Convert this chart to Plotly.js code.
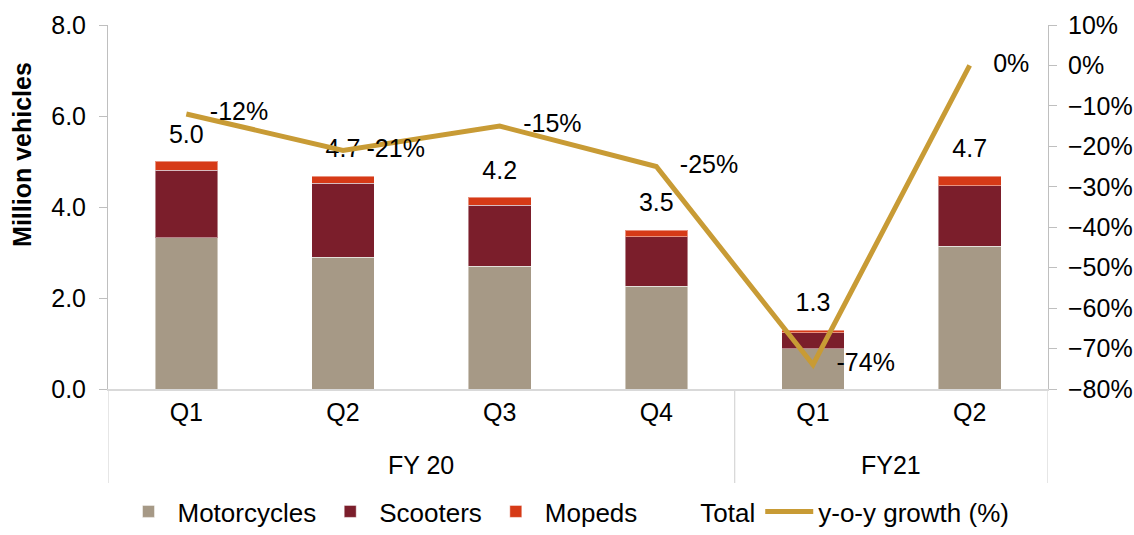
<!DOCTYPE html>
<html>
<head>
<meta charset="utf-8">
<script src="https://cdn.plot.ly/plotly-3.0.1.min.js"></script>
<style>html,body{margin:0;padding:0;background:#fff;}#chart{width:1134px;height:535px;}</style>
</head>
<body>
<div id="chart"></div>
<script>
const fiscalYears = ["FY 20","FY 20","FY 20","FY 20","FY21","FY21"];
const quarters = ["Q1","Q2","Q3","Q4","Q1","Q2"];
const motorcycles = [3.32, 2.90, 2.70, 2.26, 0.89, 3.14];
const scooters = [1.49, 1.62, 1.34, 1.09, 0.35, 1.33];
const mopeds = [0.20, 0.16, 0.17, 0.14, 0.05, 0.21];
const totals = [5.0, 4.7, 4.2, 3.5, 1.3, 4.7];
const growth = [-0.12, -0.21, -0.15, -0.25, -0.74, 0.00];
const growthLabels = ["-12%","-21%","-15%","-25%","-74%","0%"];
const yTitle = "Million vehicles";

const xIdx = quarters.map((_, i) => i);
const fontFam = '"Liberation Sans", Arial, sans-serif';
const FS = 25;
const barLine = {width: 1, color: 'rgba(255,255,255,0.45)'};
const gridGray = '#D9D9D9';

// group spans for the fiscal-year level of the category axis
const groups = [];
fiscalYears.forEach((fy, i) => {
  if (!groups.length || groups[groups.length-1].name !== fy) groups.push({name: fy, start: i, end: i});
  else groups[groups.length-1].end = i;
});

const annotations = groups.map(g => ({
  x: (g.start + g.end) / 2, xref:'x', y: -0.21, yref:'paper', yanchor:'middle',
  text: g.name, showarrow:false, font:{size:FS, color:'#000', family:fontFam}
}));
annotations.push({
  x:0, xref:'paper', xanchor:'center', xshift:-86, y:0.643, yref:'paper', yanchor:'middle',
  text: yTitle, textangle:-90, showarrow:false,
  font:{size:FS, color:'#000', family:fontFam, weight:'bold'}
});

const dividerX = [groups[0].start - 0.5].concat(groups.map(g => g.end + 0.5));
const shapes = dividerX.map(xv => ({
  type:'line', xref:'x', yref:'paper', x0:xv, x1:xv, y0:0, y1:-0.258,
  line:{color:gridGray, width:1.3}, layer:'below'
}));

const traces = [
  {type:'bar', name:'Motorcycles', x:xIdx, y:motorcycles, marker:{color:'#A69986', line:barLine}},
  {type:'bar', name:'Scooters', x:xIdx, y:scooters, marker:{color:'#7B1E2B', line:barLine}},
  {type:'bar', name:'Mopeds', x:xIdx, y:mopeds, marker:{color:'#D63A17', line:barLine}},
  {type:'scatter', name:'Total', x:xIdx, y:totals, mode:'markers+text',
   text: totals.map(v => v.toFixed(1)), textposition:'top center',
   textfont:{size:FS, color:'#000', family:fontFam},
   marker:{size:18, color:'rgba(0,0,0,0)'}, cliponaxis:false},
  {type:'scatter', name:'y-o-y growth (%)', x:xIdx, y:growth, yaxis:'y2', mode:'lines+markers+text',
   text: growthLabels, textposition:'middle right',
   textfont:{size:FS, color:'#000', family:fontFam},
   marker:{size:36, color:'rgba(0,0,0,0)'},
   line:{color:'#C89B35', width:5}, cliponaxis:false}
];

const layout = {
  width:1134, height:535,
  margin:{l:108, r:86, t:25, b:146},
  barmode:'stack', bargap:0.6,
  paper_bgcolor:'#fff', plot_bgcolor:'#fff',
  font:{family:fontFam, size:FS, color:'#000'},
  showlegend:true,
  legend:{orientation:'h', x:0.5, xanchor:'center', xref:'container',
          y:-0.012, yanchor:'bottom', yref:'container',
          font:{size:26, color:'#000'}, traceorder:'normal', itemwidth:48},
  annotations: annotations,
  shapes: shapes,
  xaxis:{range:[-0.5, xIdx.length - 0.5], tickvals:xIdx, ticktext:quarters, automargin:false,
         showline:true, linecolor:gridGray, linewidth:2, showgrid:false, zeroline:false, ticks:'',
         tickfont:{size:FS, color:'#000'}},
  yaxis:{range:[0,8], dtick:2, tickformat:'.1f', showgrid:false, zeroline:false, automargin:false,
         showline:true, linecolor:'#BFBFBF', linewidth:1, ticks:'outside', ticklen:8, tickcolor:'#BFBFBF',
         ticklabelstandoff:8, tickfont:{size:FS, color:'#000'}},
  yaxis2:{overlaying:'y', side:'right', range:[-0.8,0.1], dtick:0.1, tickformat:'.0%', automargin:false,
          showgrid:false, zeroline:false, showline:true, linecolor:'#BFBFBF', linewidth:1,
          ticks:'outside', ticklen:8, tickcolor:'#BFBFBF', ticklabelstandoff:6,
          tickfont:{size:FS, color:'#000'}}
};

Plotly.newPlot('chart', traces, layout, {displayModeBar:false, staticPlot:true});
</script>
</body>
</html>
